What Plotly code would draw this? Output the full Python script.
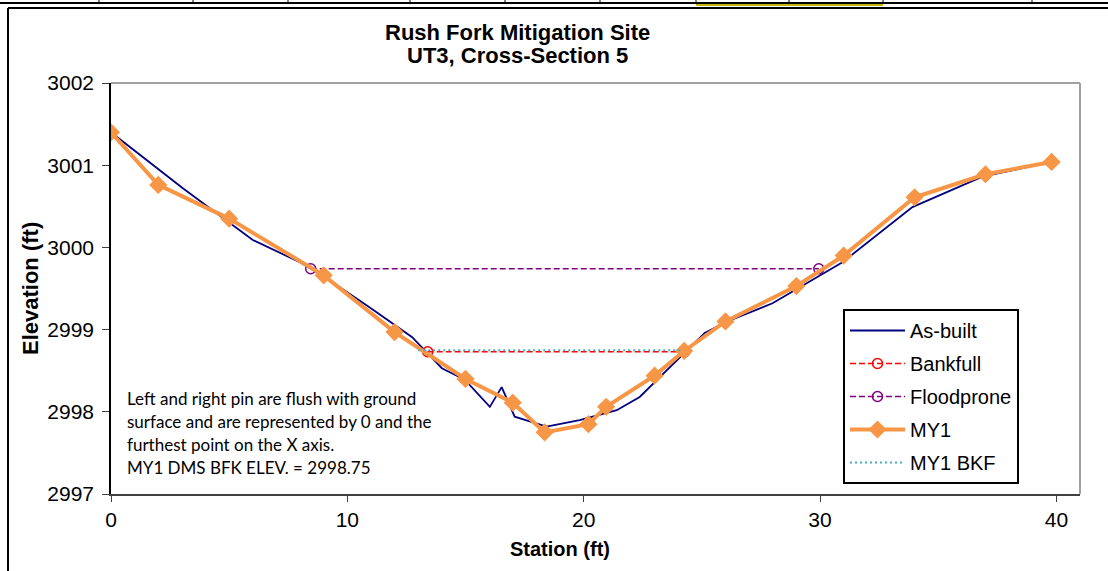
import plotly.graph_objects as go

# ---- survey data -------------------------------------------------------
# As-built ground profile
asbuilt_station = [0, 3.04, 6.0, 7.99, 9.0, 10.95, 12.73, 14.0, 14.97, 16.03, 16.53,
                   17.08, 18.43, 19.83, 21.4, 22.37, 25.12, 26.0, 27.99, 30.95,
                   33.91, 36.87, 39.79]
asbuilt_elev = [3001.40, 3000.72, 3000.09, 2999.82, 2999.65, 2999.27, 2998.91,
                2998.53, 2998.39, 2998.06, 2998.30, 2997.94, 2997.82, 2997.90,
                2998.02, 2998.18, 2998.96, 2999.09, 2999.32, 2999.82, 3000.49,
                3000.86, 3001.04]

# Monitoring year 1 profile
my1_station = [0, 2, 5, 9, 12, 15, 17, 18.35, 20.2, 20.95, 23, 24.25, 26, 29, 31,
               34, 37, 39.8]
my1_elev = [3001.40, 3000.76, 3000.35, 2999.66, 2998.97, 2998.40, 2998.11,
            2997.75, 2997.85, 2998.06, 2998.44, 2998.74, 2999.10, 2999.53,
            2999.90, 3000.61, 3000.89, 3001.04]

# Bankfull / floodprone lines
bankfull_station = [13.4, 24.27]
bankfull_elev = [2998.73, 2998.73]
floodprone_station = [8.45, 29.95]
floodprone_elev = [2999.74, 2999.74]
my1_bkf_station = [13.0, 24.2]
my1_bkf_elev = [2998.75, 2998.75]

x_ticks = [0, 10, 20, 30, 40]
y_ticks = [2997, 2998, 2999, 3000, 3001, 3002]

title_lines = ["Rush Fork Mitigation Site", "UT3, Cross-Section 5"]
note_lines = [
    "Left and right pin are flush with ground",
    "surface and are represented by 0 and the",
    "furthest point on the X axis.",
    "MY1 DMS BFK ELEV. = 2998.75",
]

# ---- layout geometry (pixels) -----------------------------------------
W, H = 1108, 571
L, R, T, B = 111, 1080, 83, 494


def px(x):
    return (x - L) / (R - L)


def py(y):
    return (B - y) / (B - T)


FONT = "Arial, Liberation Sans, sans-serif"

fig = go.Figure()

fig.add_trace(go.Scatter(
    x=asbuilt_station, y=asbuilt_elev, name="As-built", mode="lines",
    line=dict(color="#000080", width=1.8), legendgroup="a"))
fig.add_trace(go.Scatter(
    x=bankfull_station, y=bankfull_elev, name="Bankfull", mode="lines+markers",
    line=dict(color="#FF0000", width=1.5, dash="6px,3px"),
    marker=dict(symbol="circle-open", size=10, color="#FF0000", line=dict(width=1.5)),
    legendgroup="b"))
fig.add_trace(go.Scatter(
    x=floodprone_station, y=floodprone_elev, name="Floodprone", mode="lines+markers",
    line=dict(color="#800080", width=1.5, dash="6px,3px"),
    marker=dict(symbol="circle-open", size=10, color="#800080", line=dict(width=1.5)),
    legendgroup="c"))
fig.add_trace(go.Scatter(
    x=my1_station, y=my1_elev, name="MY1", mode="lines+markers",
    line=dict(color="#F79646", width=4),
    marker=dict(symbol="diamond", size=14, color="#F79646"),
    legendgroup="d"))
fig.add_trace(go.Scatter(
    x=my1_bkf_station, y=my1_bkf_elev, name="MY1 BKF", mode="lines",
    line=dict(color="#4BACC6", width=2, dash="2px,3px"),
    legendgroup="e"))

# sheet grid lines and chart frame around the figure
shapes = [
    dict(type="line", xref="paper", yref="paper", x0=px(0), x1=px(W),
         y0=py(3), y1=py(3), line=dict(color="black", width=2)),
    dict(type="line", xref="paper", yref="paper", x0=px(696), x1=px(883),
         y0=py(5), y1=py(5), line=dict(color="#C8B400", width=2)),
    dict(type="line", xref="paper", yref="paper", x0=px(8), x1=px(W),
         y0=py(8), y1=py(8), line=dict(color="black", width=2)),
    dict(type="line", xref="paper", yref="paper", x0=px(8), x1=px(8),
         y0=py(8), y1=py(H), line=dict(color="black", width=2)),
    # plot-area border (top and right)
    dict(type="line", xref="paper", yref="paper", x0=0, x1=1, y0=1, y1=1,
         line=dict(color="#A0A0A0", width=2)),
    dict(type="line", xref="paper", yref="paper", x0=1, x1=1, y0=0, y1=1,
         line=dict(color="#A0A0A0", width=2)),
]
for xv in [99, 193, 288, 410, 505, 600, 696, 789, 883, 1032]:
    shapes.append(dict(type="line", xref="paper", yref="paper", x0=px(xv), x1=px(xv),
                       y0=py(0), y1=py(3), line=dict(color="black", width=1)))

annotations = [
    dict(text="Elevation (ft)", x=px(30), y=py(289), xref="paper", yref="paper",
         showarrow=False, textangle=-90, xanchor="center", yanchor="middle",
         font=dict(family=FONT, size=22, color="black", weight="bold")),
    dict(text="Station (ft)", x=px(560), y=py(549), xref="paper", yref="paper",
         showarrow=False, xanchor="center", yanchor="middle",
         font=dict(family=FONT, size=20, color="black", weight="bold")),
]
for i, line in enumerate(title_lines):
    annotations.append(dict(
        text=line, x=px(517), y=py(32 + 24 * i), xref="paper", yref="paper",
        showarrow=False, xanchor="center", yanchor="middle",
        font=dict(family=FONT, size=22, color="black", weight="bold")))
for i, line in enumerate(note_lines):
    annotations.append(dict(
        text=line, x=px(125), y=py(398 + 23 * i), xref="paper", yref="paper",
        showarrow=False, xanchor="left", yanchor="middle", align="left",
        font=dict(family="Lato, Noto Sans, sans-serif", size=17, color="black")))

fig.update_layout(
    width=W, height=H,
    margin=dict(l=L, r=W - R, t=T, b=H - B, pad=0),
    paper_bgcolor="white", plot_bgcolor="white",
    xaxis=dict(range=[0, 41], tickvals=x_ticks, ticks="outside", ticklen=6,
               tickcolor="#404040", showline=True, linecolor="#404040", linewidth=1.5,
               showgrid=False, zeroline=False,
               tickfont=dict(family=FONT, size=21, color="black")),
    yaxis=dict(range=[2997, 3002], tickvals=y_ticks, ticks="outside", ticklen=7,
               tickcolor="#404040", showline=True, linecolor="black", linewidth=1.5,
               showgrid=False, zeroline=False, tickformat="d", ticklabelstandoff=4,
               tickfont=dict(family=FONT, size=21, color="black")),
    legend=dict(x=px(843), y=py(309), xanchor="left", yanchor="top",
                bordercolor="black", borderwidth=2, bgcolor="white",
                font=dict(family=FONT, size=20, color="black"),
                traceorder="grouped", tracegroupgap=4, itemwidth=55),
    shapes=shapes,
    annotations=annotations,
)

fig.write_html("out.html")
